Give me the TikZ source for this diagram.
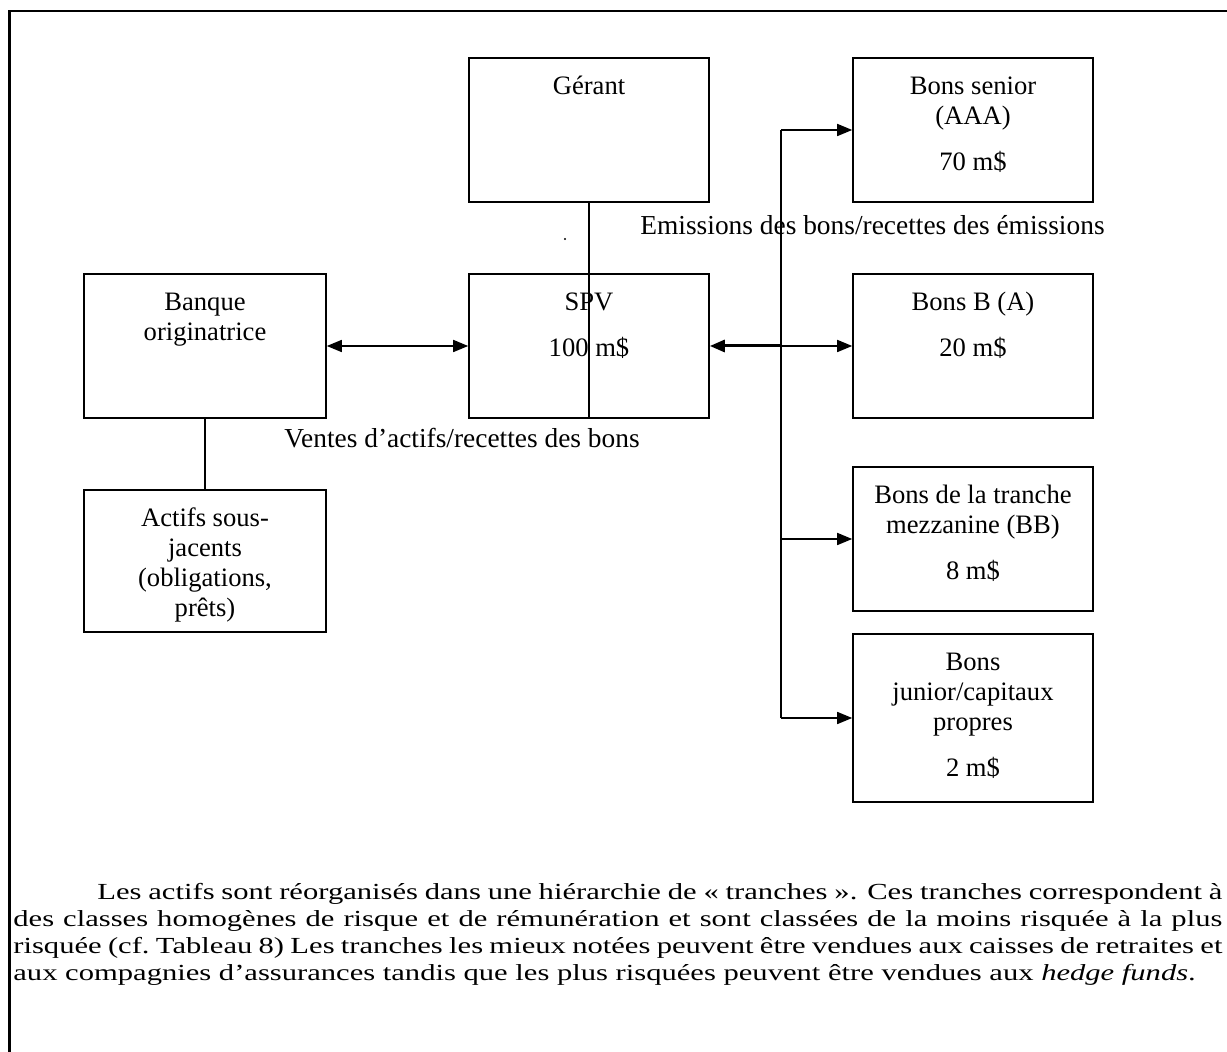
\documentclass[tikz,border=0pt]{standalone}
\usepackage{fontspec}
\setmainfont{Liberation Serif}
\newfontfamily\parafont[FakeStretch=1.33]{Liberation Serif}
\usetikzlibrary{arrows.meta}
\newcommand{\bx}[3]{\parbox[c][#2][t]{#1}{\centering\rule{0pt}{18.5pt}#3}}
\tikzset{
  box/.style={draw, line width=0.8pt, inner sep=0pt, font=\fontsize{13.3}{15}\selectfont},
  conn/.style={line width=0.8pt},
  tip/.style={-{Triangle[length=7.5pt,width=6pt]}},
  tips/.style={{Triangle[length=7.5pt,width=6pt]}-{Triangle[length=7.5pt,width=6pt]}},
  lbl/.style={inner sep=0pt, anchor=base west, font=\fontsize{13.7}{15}\selectfont}
}
\begin{document}
\begin{tikzpicture}[x=0.5pt,y=-0.5pt]
\clip (0,0) rectangle (1227,1052);
\fill[white] (0,0) rectangle (1227,1052);
% outer frame
\draw[line width=1.3pt] (9.5,1060) -- (9.5,11) -- (1240,11);

\node[box] (ger) at (589,130) {\bx{120pt}{72pt}{Gérant}};
\node[box] (spv) at (589,346) {\bx{120pt}{72pt}{SPV\\[8pt]100 m\$}};
\node[box] (banque) at (205,346) {\bx{121pt}{72pt}{Banque\\originatrice}};
\node[box] (actifs) at (205,561) {\bx{121pt}{71pt}{Actifs sous-\\jacents\\(obligations,\\prêts)}};
\node[box] (senior) at (973,130) {\bx{120pt}{72pt}{Bons senior\\(AAA)\\[8pt]70 m\$}};
\node[box] (bonsb) at (973,346) {\bx{120pt}{72pt}{Bons B (A)\\[8pt]20 m\$}};
\node[box] (mezz) at (973,539) {\bx{120pt}{72pt}{Bons de la tranche\\mezzanine (BB)\\[8pt]8 m\$}};
\node[box] (junior) at (973,718) {\bx{120pt}{84pt}{Bons\\junior/capitaux\\propres\\[8pt]2 m\$}};

\node[lbl] (emis) at (640,235) {Emissions des bons/recettes des émissions};
\node[lbl] (ventes) at (284,448) {Ventes d’actifs/recettes des bons};
\fill (565,239) circle (0.6pt);

\coordinate (jx) at (781,0);
% connectors
\draw[conn] (ger.south) -- (spv.south);
\draw[conn] (banque.south) -- (actifs.north);
\draw[conn,tips] (banque.east) -- (spv.west);
\draw[conn] (jx|-senior.west) -- (jx|-junior.west);
\draw[conn,tip] (jx|-senior.west) -- (senior.west);
\draw[line width=1.5pt,-{Triangle[length=7.5pt,width=6pt]}] (jx|-spv.east) -- (spv.east);
\draw[conn,tip] (jx|-bonsb.west) -- (bonsb.west);
\draw[conn,tip] (jx|-mezz.west) -- (mezz.west);
\draw[conn,tip] (jx|-junior.west) -- (junior.west);

\node[inner sep=0pt, anchor=base west, font=\parafont\fontsize{11.5}{13.4}\selectfont] (para) at (13,900)
{\parbox[t]{604.5pt}{\parindent=42pt\emergencystretch=20pt\hfuzz=4pt\indent Les actifs sont réorganisés dans une hiérarchie de «~tranches~». Ces tranches correspondent à\linebreak des classes homogènes de risque et de rémunération et sont classées de la moins risquée à la plus\linebreak risquée (cf.\ Tableau 8) Les tranches les mieux notées peuvent être vendues aux caisses de retraites et\linebreak aux compagnies d’assurances tandis que les plus risquées peuvent être vendues aux \textit{hedge funds}.}};
\end{tikzpicture}
\end{document}
